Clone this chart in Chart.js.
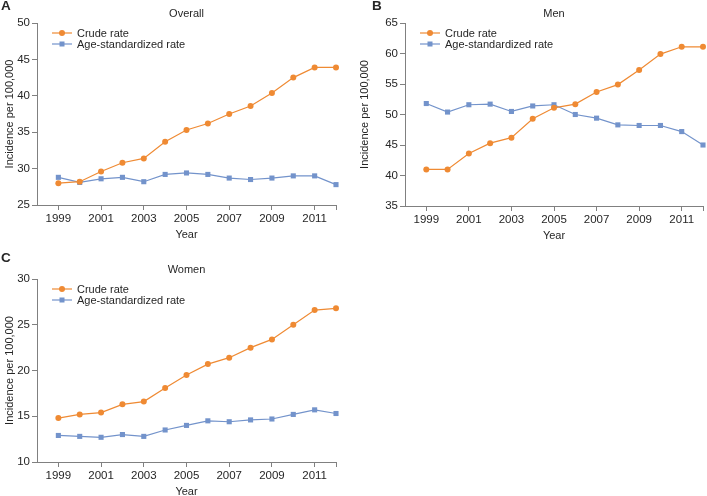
<!DOCTYPE html>
<html>
<head>
<meta charset="utf-8">
<script src="https://cdn.jsdelivr.net/npm/chart.js@4"></script>
<style>
  body { margin: 0; background: #fff; width: 707px; height: 496px; position: relative; overflow: hidden; }
  canvas { position: absolute; }
</style>
</head>
<body>
<canvas id="chartA" width="355" height="245" style="left:0;top:0"></canvas>
<canvas id="chartB" width="352" height="245" style="left:355px;top:0"></canvas>
<canvas id="chartC" width="355" height="251" style="left:0;top:245px"></canvas>
<script>
const years = [1999, 2000, 2001, 2002, 2003, 2004, 2005, 2006, 2007, 2008, 2009, 2010, 2011, 2012];
const tickYears = [1999, 2001, 2003, 2005, 2007, 2009, 2011, 2012];

const overallCrude = [28.0, 28.2, 29.6, 30.8, 31.4, 33.7, 35.3, 36.2, 37.5, 38.6, 40.4, 42.5, 43.9, 43.9];
const overallAsr   = [28.8, 28.1, 28.6, 28.8, 28.2, 29.2, 29.4, 29.2, 28.7, 28.5, 28.7, 29.0, 29.0, 27.8];
const menCrude     = [41.0, 41.0, 43.6, 45.3, 46.2, 49.3, 51.1, 51.7, 53.7, 54.9, 57.3, 59.9, 61.1, 61.1];
const menAsr       = [51.8, 50.4, 51.6, 51.7, 50.5, 51.4, 51.6, 50.0, 49.4, 48.3, 48.2, 48.2, 47.2, 45.0];
const womenCrude   = [14.8, 15.2, 15.4, 16.3, 16.6, 18.1, 19.5, 20.7, 21.4, 22.5, 23.4, 25.0, 26.6, 26.8];
const womenAsr     = [12.9, 12.8, 12.7, 13.0, 12.8, 13.5, 14.0, 14.5, 14.4, 14.6, 14.7, 15.2, 15.7, 15.3];

const seriesNames = ['Crude rate', 'Age-standardized rate'];
const orange = '#ef8a33';
const blue = '#7393cb';
const textColor = '#262626';
const axisColor = '#808080';
const fontFamily = "'Liberation Sans', Arial, sans-serif";

// legend, panel letter, title and axis titles drawn inside the canvas
const decorations = {
    id: 'decorations',
    afterDraw(chart, args, opts) {
        const ctx = chart.ctx;
        const area = chart.chartArea;
        ctx.save();
        ctx.fillStyle = textColor;
        ctx.textBaseline = 'middle';

        // panel letter
        ctx.font = 'bold 13.5px ' + fontFamily;
        ctx.textAlign = 'left';
        ctx.fillText(opts.letter, opts.letterX, opts.letterY);

        // title
        ctx.font = '11px ' + fontFamily;
        ctx.textAlign = 'center';
        ctx.fillText(opts.title, (area.left + area.right) / 2, area.top - 9);

        // x title
        ctx.fillText('Year', (area.left + area.right) / 2, area.bottom + 30);

        // y title
        ctx.save();
        ctx.translate(10, (area.top + area.bottom) / 2);
        ctx.rotate(-Math.PI / 2);
        ctx.fillText('Incidence per 100,000', 0, 0);
        ctx.restore();

        // legend
        ctx.textAlign = 'left';
        chart.data.datasets.forEach(function (ds, i) {
            const y = area.top + 10 + i * 11;
            const x0 = area.left + 15;
            ctx.strokeStyle = ds.borderColor;
            ctx.lineWidth = 1.2;
            ctx.beginPath();
            ctx.moveTo(x0, y);
            ctx.lineTo(x0 + 20, y);
            ctx.stroke();
            ctx.fillStyle = ds.backgroundColor;
            if (ds.pointStyle === 'rect') {
                ctx.fillRect(x0 + 7.5, y - 2.5, 5, 5);
            } else {
                ctx.beginPath();
                ctx.arc(x0 + 10, y, 3, 0, Math.PI * 2);
                ctx.fill();
            }
            ctx.fillStyle = textColor;
            ctx.fillText(ds.label, x0 + 25, y + 0.5);
        });
        ctx.restore();
    }
};

function makeChart(id, crude, asr, yMin, yMax, box, deco) {
    const ctx = document.getElementById(id).getContext('2d');
    return new Chart(ctx, {
        type: 'line',
        data: {
            datasets: [{
                label: seriesNames[0],
                data: years.map(function (y, i) { return {x: y, y: crude[i]}; }),
                borderColor: orange,
                backgroundColor: orange,
                borderWidth: 1.2,
                pointStyle: 'circle',
                pointRadius: 3,
                pointBorderWidth: 0,
                clip: false
            }, {
                label: seriesNames[1],
                data: years.map(function (y, i) { return {x: y, y: asr[i]}; }),
                borderColor: blue,
                backgroundColor: blue,
                borderWidth: 1.2,
                pointStyle: 'rect',
                pointRadius: 3.6,
                pointBorderWidth: 0,
                clip: false
            }]
        },
        options: {
            responsive: false,
            animation: false,
            devicePixelRatio: 1,
            layout: {
                padding: {top: box.top, right: box.right, left: 0, bottom: 0}
            },
            plugins: {
                legend: {display: false},
                tooltip: {enabled: false},
                decorations: deco
            },
            scales: {
                x: {
                    type: 'linear',
                    min: 1998,
                    max: 2012,
                    afterBuildTicks: function (scale) {
                        scale.ticks = tickYears.map(function (v) { return {value: v}; });
                    },
                    afterFit: function (scale) { scale.height = box.xHeight; },
                    ticks: {
                        autoSkip: false,
                        maxRotation: 0,
                        padding: 2,
                        color: textColor,
                        font: {family: fontFamily, size: 11.5},
                        callback: function (v) { return v === 2012 ? '' : String(v); }
                    },
                    grid: {drawOnChartArea: false, tickLength: 5, color: axisColor},
                    border: {display: true, color: axisColor, width: 1}
                },
                y: {
                    min: yMin,
                    max: yMax,
                    afterFit: function (scale) { scale.width = box.left; },
                    ticks: {
                        stepSize: 5,
                        padding: 2,
                        color: textColor,
                        font: {family: fontFamily, size: 11.5}
                    },
                    grid: {drawOnChartArea: false, tickLength: 5, color: axisColor},
                    border: {display: true, color: axisColor, width: 1}
                }
            }
        },
        plugins: [decorations]
    });
}

makeChart('chartA', overallCrude, overallAsr, 25, 50,
    {top: 23, right: 19, left: 37, xHeight: 40},
    {letter: 'A', letterX: 1, letterY: 6, title: 'Overall'});

makeChart('chartB', menCrude, menAsr, 35, 65,
    {top: 23, right: 2, left: 50, xHeight: 39},
    {letter: 'B', letterX: 17, letterY: 6, title: 'Men'});

makeChart('chartC', womenCrude, womenAsr, 10, 30,
    {top: 34, right: 19, left: 37, xHeight: 34},
    {letter: 'C', letterX: 1, letterY: 13, title: 'Women'});
</script>
</body>
</html>
